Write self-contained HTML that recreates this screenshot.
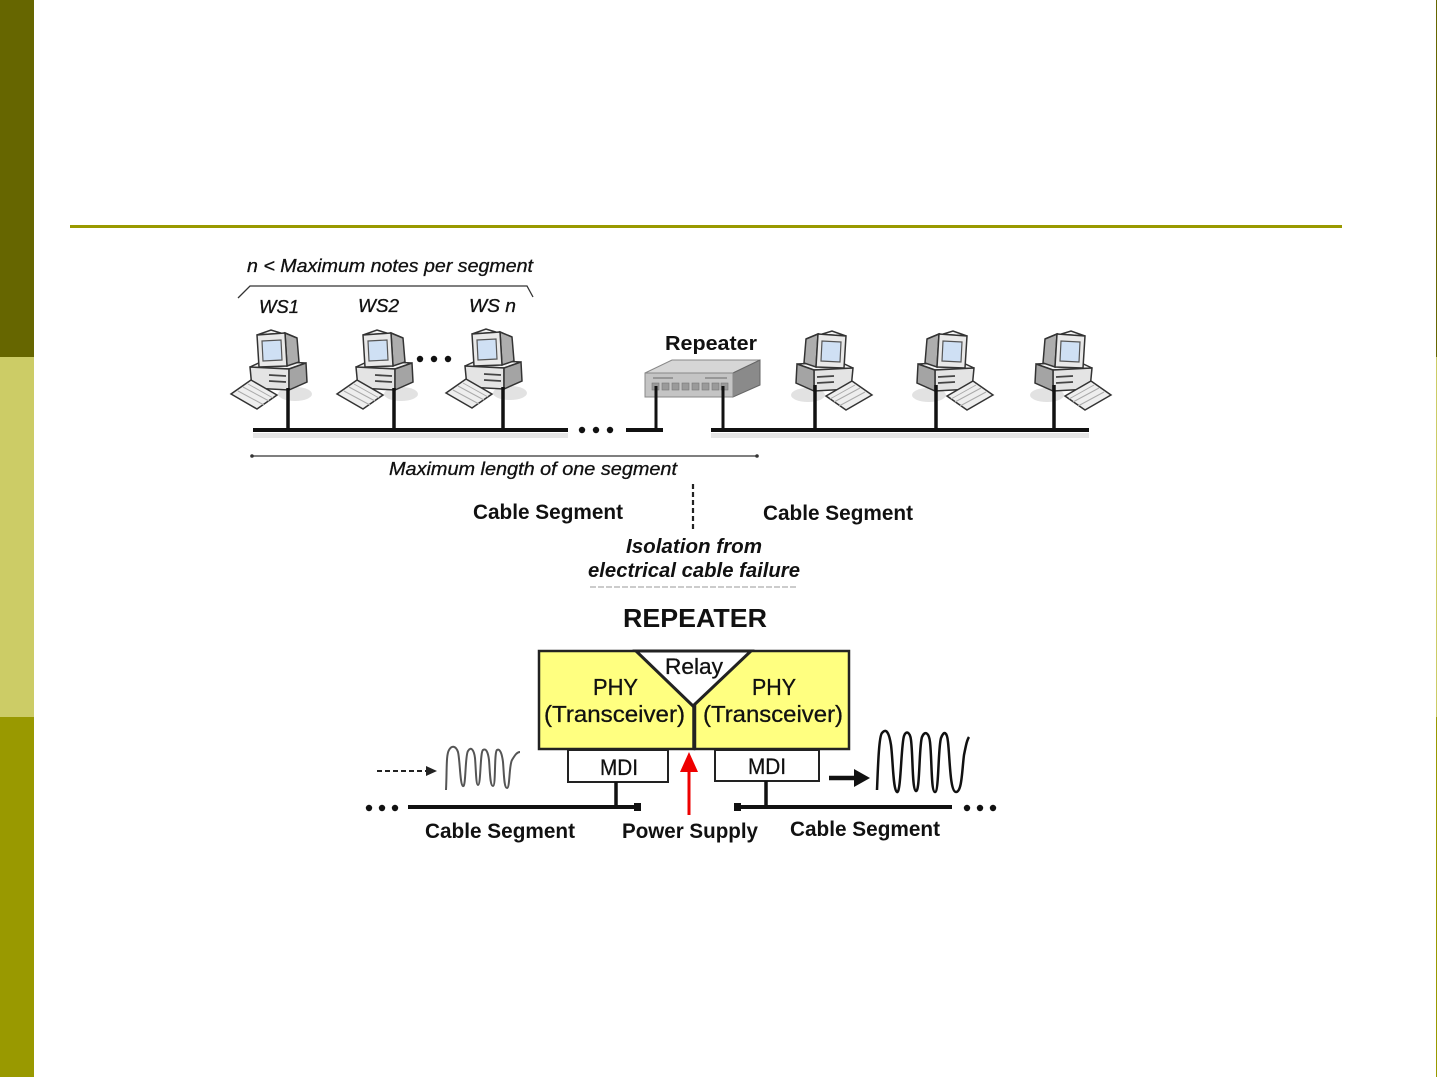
<!DOCTYPE html>
<html><head><meta charset="utf-8"><style>
html,body{margin:0;padding:0;background:#fff;}
svg{display:block;}
text{font-family:"Liberation Sans",Arial,sans-serif;}
</style></head><body>
<svg width="1437" height="1077" viewBox="0 0 1437 1077" xmlns="http://www.w3.org/2000/svg">
<defs>
  <g id="pc">
    <ellipse cx="64" cy="64" rx="17" ry="7" fill="#e2e2e2"/>
    <!-- base -->
    <polygon points="19,37 32,31 75,33 58,39" fill="#f4f4f4" stroke="#333" stroke-width="1.5"/>
    <polygon points="19,37 58,39 58,60 21,58" fill="#e4e4e4" stroke="#333" stroke-width="1.5"/>
    <polygon points="58,39 75,33 76,52 58,60" fill="#a4a4a4" stroke="#333" stroke-width="1.5"/>
    <line x1="38" y1="45" x2="55" y2="46" stroke="#444" stroke-width="1.8"/>
    <line x1="38" y1="51" x2="55" y2="52" stroke="#444" stroke-width="1.8"/>
    <!-- monitor -->
    <polygon points="26,5 40,0 66,8 54,3" fill="#f2f2f2" stroke="#333" stroke-width="1.5"/>
    <polygon points="54,3 66,8 68,32 56,36" fill="#adadad" stroke="#333" stroke-width="1.5"/>
    <polygon points="26,5 54,3 56,36 28,37" fill="#e9e9e9" stroke="#333" stroke-width="1.5"/>
    <polygon points="31,11 50,10 51,30 32,31" fill="#cfe0f4" stroke="#555" stroke-width="1.2"/>
    <!-- keyboard -->
    <polygon points="0,64 20,50 46,65 26,79" fill="#eeeeee" stroke="#333" stroke-width="1.5"/>
    <line x1="7" y1="61" x2="33" y2="75" stroke="#aaa" stroke-width="1"/>
    <line x1="12" y1="57" x2="38" y2="71" stroke="#aaa" stroke-width="1"/>
    <line x1="17" y1="54" x2="42" y2="68" stroke="#aaa" stroke-width="1"/>
  </g>
</defs>

<!-- side bars -->
<rect x="0" y="0" width="34" height="357" fill="#666600"/>
<rect x="0" y="357" width="34" height="360" fill="#cccc66"/>
<rect x="0" y="717" width="34" height="360" fill="#999900"/>
<rect x="1436" y="0" width="1" height="357" fill="#666600"/>
<rect x="1436" y="357" width="1" height="360" fill="#cccc66"/>
<rect x="1436" y="717" width="1" height="360" fill="#999900"/>
<!-- rule -->
<rect x="70" y="225" width="1272" height="3" fill="#999900"/>

<!-- top diagram -->
<text x="247" y="272" font-size="18" font-style="italic" fill="#111" stroke="#111" stroke-width="0.3" textLength="286" lengthAdjust="spacingAndGlyphs">n &lt; Maximum notes per segment</text>
<polyline points="238,298 250,286 527,286 533,297" fill="none" stroke="#333" stroke-width="1.3"/>
<text x="259" y="313" font-size="18" font-style="italic" fill="#111" stroke="#111" stroke-width="0.3" textLength="40" lengthAdjust="spacingAndGlyphs">WS1</text>
<text x="358" y="312" font-size="18" font-style="italic" fill="#111" stroke="#111" stroke-width="0.3" textLength="41" lengthAdjust="spacingAndGlyphs">WS2</text>
<text x="469" y="312" font-size="18" font-style="italic" fill="#111" stroke="#111" stroke-width="0.3" textLength="47" lengthAdjust="spacingAndGlyphs">WS n</text>

<!-- bus shadows -->
<rect x="253" y="433" width="315" height="5" fill="#e6e6e6"/>
<rect x="711" y="433" width="378" height="5" fill="#e6e6e6"/>

<!-- left PCs -->
<use href="#pc" transform="translate(231,330)"/>
<use href="#pc" transform="translate(337,330)"/>
<use href="#pc" transform="translate(446,329)"/>
<line x1="288" y1="388" x2="288" y2="430" stroke="#111" stroke-width="3.5"/>
<line x1="394" y1="388" x2="394" y2="430" stroke="#111" stroke-width="3.5"/>
<line x1="503" y1="387" x2="503" y2="430" stroke="#111" stroke-width="3.5"/>
<circle cx="420" cy="359" r="3.2" fill="#111"/><circle cx="434" cy="359" r="3.2" fill="#111"/><circle cx="448" cy="359" r="3.2" fill="#111"/>

<line x1="253" y1="430" x2="568" y2="430" stroke="#111" stroke-width="4"/>
<circle cx="582" cy="430" r="3.2" fill="#111"/><circle cx="596" cy="430" r="3.2" fill="#111"/><circle cx="610" cy="430" r="3.2" fill="#111"/>
<line x1="626" y1="430" x2="663" y2="430" stroke="#111" stroke-width="4"/>

<!-- repeater device -->
<text x="665" y="350" font-size="20" font-weight="bold" fill="#111" textLength="92" lengthAdjust="spacingAndGlyphs">Repeater</text>
<polygon points="645,373 672,360 760,360 733,373" fill="#d6d6d6" stroke="#888" stroke-width="1"/>
<polygon points="733,373 760,360 760,385 733,397" fill="#8a8a8a" stroke="#666" stroke-width="1"/>
<rect x="645" y="373" width="88" height="24" fill="#c4c4c4" stroke="#888" stroke-width="1"/>
<line x1="653" y1="378" x2="673" y2="378" stroke="#888" stroke-width="1.5"/>
<line x1="705" y1="378" x2="727" y2="378" stroke="#888" stroke-width="1.5"/>
<g fill="#9a9a9a" stroke="#777" stroke-width="0.6">
<rect x="652" y="383" width="7" height="7"/><rect x="662" y="383" width="7" height="7"/><rect x="672" y="383" width="7" height="7"/><rect x="682" y="383" width="7" height="7"/><rect x="692" y="383" width="7" height="7"/><rect x="702" y="383" width="7" height="7"/><rect x="712" y="383" width="7" height="7"/><rect x="721" y="383" width="7" height="7"/>
</g>
<line x1="656" y1="386" x2="656" y2="430" stroke="#111" stroke-width="3"/>
<line x1="723" y1="386" x2="723" y2="430" stroke="#111" stroke-width="3"/>

<!-- right PCs (mirrored) -->
<use href="#pc" transform="translate(872,331) scale(-1,1)"/>
<use href="#pc" transform="translate(993,331) scale(-1,1)"/>
<use href="#pc" transform="translate(1111,331) scale(-1,1)"/>
<line x1="815" y1="385" x2="815" y2="430" stroke="#111" stroke-width="3.5"/>
<line x1="936" y1="385" x2="936" y2="430" stroke="#111" stroke-width="3.5"/>
<line x1="1054" y1="385" x2="1054" y2="430" stroke="#111" stroke-width="3.5"/>
<line x1="711" y1="430" x2="1089" y2="430" stroke="#111" stroke-width="4"/>

<!-- dimension line -->
<line x1="252" y1="456" x2="757" y2="456" stroke="#333" stroke-width="1.2"/>
<circle cx="252" cy="456" r="1.8" fill="#333"/><circle cx="757" cy="456" r="1.8" fill="#333"/>
<text x="389" y="475" font-size="18" font-style="italic" fill="#111" stroke="#111" stroke-width="0.3" textLength="288" lengthAdjust="spacingAndGlyphs">Maximum length of one segment</text>

<text x="473" y="519" font-size="21" font-weight="bold" fill="#111" textLength="150" lengthAdjust="spacingAndGlyphs">Cable Segment</text>
<text x="763" y="520" font-size="21" font-weight="bold" fill="#111" textLength="150" lengthAdjust="spacingAndGlyphs">Cable Segment</text>
<line x1="693" y1="484" x2="693" y2="530" stroke="#222" stroke-width="2.2" stroke-dasharray="5,3"/>
<text x="626" y="553" font-size="20" font-weight="bold" font-style="italic" fill="#111" textLength="136" lengthAdjust="spacingAndGlyphs">Isolation from</text>
<text x="588" y="577" font-size="20" font-weight="bold" font-style="italic" fill="#111" textLength="212" lengthAdjust="spacingAndGlyphs">electrical cable failure</text>
<line x1="590" y1="587" x2="798" y2="587" stroke="#bbb" stroke-width="1.5" stroke-dasharray="6,2"/>

<!-- bottom diagram -->
<text x="623" y="627" font-size="26" font-weight="bold" fill="#111" textLength="144" lengthAdjust="spacingAndGlyphs">REPEATER</text>
<rect x="539" y="651" width="155" height="98" fill="#ffff80" stroke="#222" stroke-width="2.5"/>
<rect x="695" y="651" width="154" height="98" fill="#ffff80" stroke="#222" stroke-width="2.5"/>
<polygon points="636,651 751,651 693,706" fill="#fff" stroke="#222" stroke-width="3"/>
<line x1="693" y1="706" x2="693" y2="749" stroke="#222" stroke-width="1.5"/>
<line x1="695" y1="706" x2="695" y2="749" stroke="#222" stroke-width="1.5"/>
<text x="665" y="674" font-size="22" fill="#111" stroke="#111" stroke-width="0.3" textLength="58" lengthAdjust="spacingAndGlyphs">Relay</text>
<text x="593" y="695" font-size="23" fill="#111" stroke="#111" stroke-width="0.3" textLength="45" lengthAdjust="spacingAndGlyphs">PHY</text>
<text x="544" y="722" font-size="23" fill="#111" stroke="#111" stroke-width="0.3" textLength="141" lengthAdjust="spacingAndGlyphs">(Transceiver)</text>
<text x="752" y="695" font-size="23" fill="#111" stroke="#111" stroke-width="0.3" textLength="44" lengthAdjust="spacingAndGlyphs">PHY</text>
<text x="703" y="722" font-size="23" fill="#111" stroke="#111" stroke-width="0.3" textLength="140" lengthAdjust="spacingAndGlyphs">(Transceiver)</text>

<rect x="568" y="750" width="100" height="32" fill="#fff" stroke="#222" stroke-width="2"/>
<rect x="715" y="750" width="104" height="31" fill="#fff" stroke="#222" stroke-width="2"/>
<text x="600" y="775" font-size="22" fill="#111" stroke="#111" stroke-width="0.3" textLength="38" lengthAdjust="spacingAndGlyphs">MDI</text>
<text x="748" y="774" font-size="22" fill="#111" stroke="#111" stroke-width="0.3" textLength="38" lengthAdjust="spacingAndGlyphs">MDI</text>
<line x1="616" y1="782" x2="616" y2="808" stroke="#111" stroke-width="3.5"/>
<line x1="766" y1="781" x2="766" y2="808" stroke="#111" stroke-width="3.5"/>

<line x1="408" y1="807" x2="640" y2="807" stroke="#111" stroke-width="4"/>
<rect x="634" y="803" width="7" height="8" fill="#111"/>
<circle cx="369" cy="808" r="3.2" fill="#111"/><circle cx="382" cy="808" r="3.2" fill="#111"/><circle cx="395" cy="808" r="3.2" fill="#111"/>
<line x1="736" y1="807" x2="952" y2="807" stroke="#111" stroke-width="4"/>
<rect x="734" y="803" width="7" height="8" fill="#111"/>
<circle cx="967" cy="808" r="3.2" fill="#111"/><circle cx="980" cy="808" r="3.2" fill="#111"/><circle cx="993" cy="808" r="3.2" fill="#111"/>

<!-- red power arrow -->
<line x1="689" y1="815" x2="689" y2="768" stroke="#ee0000" stroke-width="3"/>
<polygon points="680,772 689,752 698,772" fill="#ee0000"/>

<!-- dashed input arrow -->
<line x1="377" y1="771" x2="428" y2="771" stroke="#222" stroke-width="2" stroke-dasharray="5,3"/>
<polygon points="426,766 437,771 426,776" fill="#222"/>
<!-- input wave -->
<path d="M446,790 C447,770 446,755 449,750 C452,745 456,746 458,752 C460,760 460,785 463,786 C466,788 465,755 468,751 C471,746 474,750 475,758 C476,770 476,785 478,785 C481,785 480,752 483,750 C486,748 488,752 489,760 C490,772 490,786 493,786 C496,786 494,752 497,750 C500,748 502,754 503,762 C504,774 504,788 507,788 C510,788 509,765 512,760 C515,755 517,752 520,752" fill="none" stroke="#555" stroke-width="2"/>

<!-- output arrow -->
<line x1="829" y1="778" x2="858" y2="778" stroke="#111" stroke-width="4.5"/>
<polygon points="854,769 870,778 854,787" fill="#111"/>
<!-- output wave -->
<path d="M877,790 C878,765 879,736 882,733 C886,728 889,732 891,745 C893,760 893,790 897,792 C901,794 901,745 904,736 C906,730 910,732 911,740 C913,755 912,790 916,791 C920,792 919,745 922,737 C925,730 929,733 930,742 C932,760 931,792 935,792 C939,792 938,748 941,738 C944,730 947,732 948,742 C950,760 950,792 956,792 C962,792 962,770 964,755 C966,745 967,740 969,737" fill="none" stroke="#111" stroke-width="2.5"/>

<text x="425" y="838" font-size="21" font-weight="bold" fill="#111" textLength="150" lengthAdjust="spacingAndGlyphs">Cable Segment</text>
<text x="622" y="838" font-size="21" font-weight="bold" fill="#111" textLength="136" lengthAdjust="spacingAndGlyphs">Power Supply</text>
<text x="790" y="836" font-size="21" font-weight="bold" fill="#111" textLength="150" lengthAdjust="spacingAndGlyphs">Cable Segment</text>
</svg>
</body></html>
